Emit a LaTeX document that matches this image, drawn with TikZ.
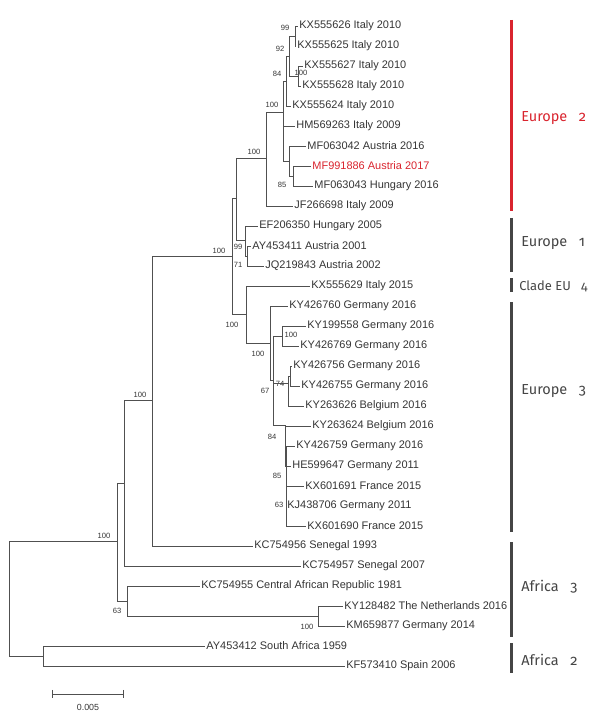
\documentclass[tikz,border=0pt]{standalone}
\usepackage{fontspec}
\usepackage{tikz}
\newfontfamily\treefont{Liberation Sans}
\newfontfamily\cladefont[Numbers=OldStyle]{Fira Sans}
\definecolor{linegray}{HTML}{505050}
\definecolor{textgray}{HTML}{353535}
\definecolor{cladegray}{HTML}{454545}
\definecolor{cladered}{HTML}{D9242E}

\begin{document}
\begin{tikzpicture}
	[
		x=0.025cm, y=-0.025cm,
		leaf/.style={anchor=west, inner sep=0.8pt, text=textgray, font=\treefont\fontsize{7.8}{9}\selectfont},
		boot/.style={inner sep=0pt, text=textgray, font=\treefont\fontsize{5.4}{6}\selectfont},
		branch/.style={draw=linegray, line width=0.6pt},
		bar/.style={line width=2.2pt},
		clade/.style={anchor=base west, inner sep=0pt, font=\cladefont\fontsize{10.3}{12}\selectfont}
	]
	\useasboundingbox (0,0) rectangle (605,728);

	% internal nodes
	\coordinate (r0)  at (  9, 598);
	\coordinate (nZ)  at ( 43, 656);
	\coordinate (nA)  at (117, 541);
	\coordinate (nC)  at (124, 483);
	\coordinate (nE)  at (127, 601);
	\coordinate (nF)  at (318, 616);
	\coordinate (nD)  at (152, 400);
	\coordinate (nG)  at (232, 256);
	\coordinate (nH)  at (236, 198);
	\coordinate (nI)  at (266, 158);
	\coordinate (nU)  at (283, 112);
	\coordinate (nV4) at (286,  81);
	\coordinate (nV2) at (289,  56);
	\coordinate (nV1) at (295,  36);
	\coordinate (nV3) at (298,  76);
	\coordinate (nW)  at (289, 161);
	\coordinate (nX)  at (293, 176);
	\coordinate (nJ)  at (245, 240);
	\coordinate (nK)  at (247, 256);
	\coordinate (nL)  at (246, 314);
	\coordinate (nM)  at (270, 343);
	\coordinate (nS)  at (273, 380);
	\coordinate (nP)  at (282, 336);
	\coordinate (nQ)  at (288, 383);
	\coordinate (nQ2) at (290, 376);
	\coordinate (nR)  at (285, 425);
	\coordinate (nR2) at (286, 466);
	\coordinate (nR3) at (286.5, 516);

	% leaves
	\node[leaf] (KX555626) at (298,  26) {KX555626 Italy 2010};
	\node[leaf] (KX555625) at (296,  46) {KX555625 Italy 2010};
	\node[leaf] (KX555627) at (303,  66) {KX555627 Italy 2010};
	\node[leaf] (KX555628) at (301,  86) {KX555628 Italy 2010};
	\node[leaf] (KX555624) at (291, 106) {KX555624 Italy 2010};
	\node[leaf] (HM569263) at (295, 126) {HM569263 Italy 2009};
	\node[leaf] (MF063042) at (306, 146) {MF063042 Austria 2016};
	\node[leaf, text=cladered] (MF991886) at (311, 166) {MF991886 Austria 2017};
	\node[leaf] (MF063043) at (313, 186) {MF063043 Hungary 2016};
	\node[leaf] (JF266698) at (293, 206) {JF266698 Italy 2009};
	\node[leaf] (EF206350) at (258, 226) {EF206350 Hungary 2005};
	\node[leaf] (AY453411) at (251, 246) {AY453411 Austria 2001};
	\node[leaf] (JQ219843) at (264, 266) {JQ219843 Austria 2002};
	\node[leaf] (KX555629) at (310, 286) {KX555629 Italy 2015};
	\node[leaf] (KY426760) at (288, 306) {KY426760 Germany 2016};
	\node[leaf] (KY199558) at (306, 326) {KY199558 Germany 2016};
	\node[leaf] (KY426769) at (299, 346) {KY426769 Germany 2016};
	\node[leaf] (KY426756) at (292, 366) {KY426756 Germany 2016};
	\node[leaf] (KY426755) at (300, 386) {KY426755 Germany 2016};
	\node[leaf] (KY263626) at (304, 406) {KY263626 Belgium 2016};
	\node[leaf] (KY263624) at (311, 426) {KY263624 Belgium 2016};
	\node[leaf] (KY426759) at (295, 446) {KY426759 Germany 2016};
	\node[leaf] (HE599647) at (291, 466) {HE599647 Germany 2011};
	\node[leaf] (KX601691) at (304, 486) {KX601691 France 2015};
	\node[leaf] (KJ438706) at (286, 506) {KJ438706 Germany 2011};
	\node[leaf] (KX601690) at (306, 526) {KX601690 France 2015};
	\node[leaf] (KC754956) at (253, 546) {KC754956 Senegal 1993};
	\node[leaf] (KC754957) at (301, 566) {KC754957 Senegal 2007};
	\node[leaf] (KC754955) at (200, 586) {KC754955 Central African Republic 1981};
	\node[leaf] (KY128482) at (343, 606) {KY128482 The Netherlands 2016};
	\node[leaf] (KM659877) at (345, 626) {KM659877 Germany 2014};
	\node[leaf] (AY453412) at (205, 646) {AY453412 South Africa 1959};
	\node[leaf] (KF573410) at (345, 666) {KF573410 Spain 2006};

	% bootstrap values
	\node[boot] (bV1) at (285,  28) {99};
	\node[boot] (bV2) at (280,  49) {92};
	\node[boot] (bV3) at (301,  73) {100};
	\node[boot] (bV4) at (277,  74) {84};
	\node[boot] (bU)  at (272, 105) {100};
	\node[boot] (bI)  at (254, 152) {100};
	\node[boot] (bX)  at (282, 185) {85};
	\node[boot] (bG)  at (219, 251) {100};
	\node[boot] (bJ)  at (238, 247) {99};
	\node[boot] (bK)  at (238, 265) {71};
	\node[boot] (bL)  at (232, 325) {100};
	\node[boot] (bP)  at (291, 335) {100};
	\node[boot] (bM)  at (258, 354) {100};
	\node[boot] (bS)  at (265, 391) {67};
	\node[boot] (bQ)  at (280, 384) {74};
	\node[boot] (bR)  at (272, 437) {84};
	\node[boot] (bR2) at (277, 476) {85};
	\node[boot] (bR3) at (279, 505) {63};
	\node[boot] (bD)  at (140, 395) {100};
	\node[boot] (bA)  at (104, 536) {100};
	\node[boot] (bE)  at (117, 611) {63};
	\node[boot] (bF)  at (307, 627) {100};

	% branches
	\foreach \from/\to in {r0/nA,r0/nZ,nZ/AY453412,nZ/KF573410,
		nA/nC,nA/nE,nE/KC754955,nE/nF,nF/KY128482,nF/KM659877,
		nC/nD,nC/KC754957,nD/nG,nD/KC754956,nG/nH,nG/nL,
		nH/nI,nH/nJ,nI/nU,nI/JF266698,
		nU/nV4,nU/HM569263,nU/nW,nV4/nV2,nV4/KX555624,nV2/nV1,nV2/nV3,
		nV1/KX555626,nV1/KX555625,nV3/KX555627,nV3/KX555628,
		nW/MF063042,nW/nX,nX/MF991886,nX/MF063043,
		nJ/EF206350,nJ/nK,nK/AY453411,nK/JQ219843,
		nL/KX555629,nL/nM,nM/KY426760,nM/nS,nS/nP,nS/nQ,nS/nR,
		nP/KY199558,nP/KY426769,nQ/nQ2,nQ/KY263626,nQ2/KY426756,nQ2/KY426755,
		nR/KY263624,nR/nR2,nR2/KY426759,nR2/HE599647,nR2/KX601691,nR2/nR3,
		nR3/KJ438706,nR3/KX601690}
	\draw[branch] (\from) |- (\to);

	% clade bars
	\draw[bar, cladered] (511.5, 20) -- (511.5, 211);
	\draw[bar, cladegray] (511.5, 218) -- (511.5, 272);
	\draw[bar, cladegray] (511.5, 278) -- (511.5, 292);
	\draw[bar, cladegray] (511.5, 302) -- (511.5, 532);
	\draw[bar, cladegray] (511.5, 542) -- (511.5, 637);
	\draw[bar, cladegray] (511.5, 643) -- (511.5, 673);

	% clade labels
	\node[clade, text=cladered] (eu2) at (521, 121.7) {Europe\hspace{0.8em}2};
	\node[clade, text=cladegray] (eu1) at (521, 246.7) {Europe\hspace{0.8em}1};
	\node[clade, text=cladegray, font=\cladefont\fontsize{9.2}{11}\selectfont] (eu4) at (519, 290) {Clade EU\hspace{0.8em}4};
	\node[clade, text=cladegray] (eu3) at (521, 394) {Europe\hspace{0.8em}3};
	\node[clade, text=cladegray] (af3) at (521, 591.7) {Africa\hspace{0.8em}3};
	\node[clade, text=cladegray] (af2) at (521, 665) {Africa\hspace{0.8em}2};

	% scale bar
	\coordinate (sbl) at (52, 694);
	\coordinate (sbr) at (123, 694);
	\draw[branch] (sbl) -- (sbr);
	\draw[branch] ([yshift=3]sbl) -- ([yshift=-3]sbl);
	\draw[branch] ([yshift=3]sbr) -- ([yshift=-3]sbr);
	\node[boot, font=\treefont\fontsize{6.3}{7}\selectfont] (sbtext) at (88, 707) {0.005};

\end{tikzpicture}
\end{document}
